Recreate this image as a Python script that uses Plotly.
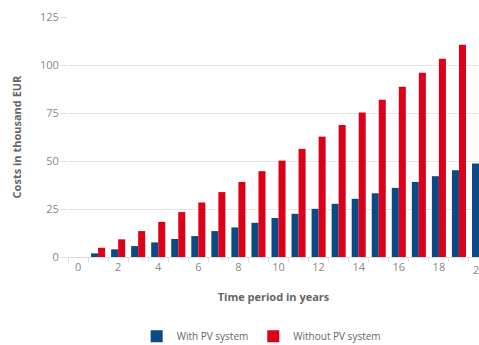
import plotly.graph_objects as go

years = list(range(1, 21))
with_pv = [1.9, 4.0, 5.7, 7.6, 9.4, 10.9, 13.5, 15.4, 17.8, 20.3,
           22.5, 25.1, 27.7, 30.3, 33.2, 36.0, 39.1, 42.1, 45.2, 48.7]
without_pv = [4.8, 9.2, 13.5, 18.3, 23.4, 28.4, 33.8, 39.1, 44.7, 50.2,
              56.3, 62.7, 68.7, 75.2, 81.9, 88.7, 95.9, 103.2, 110.6, 117.5]

blue = "#0b4a85"
red = "#dc0018"
grey_text = "#777777"

fig = go.Figure()

fig.add_trace(go.Bar(x=years, y=with_pv, name="With PV system", marker_color=blue,
                     marker_line_width=0))
fig.add_trace(go.Bar(x=years, y=without_pv, name="Without PV system", marker_color=red,
                     marker_line_width=0))

fig.update_layout(
    width=479, height=345,
    margin=dict(l=68, r=0, t=17, b=88, autoexpand=False),
    plot_bgcolor="white", paper_bgcolor="white",
    barmode="group", bargap=0.3, bargroupgap=0,
    font=dict(family="Open Sans, Segoe UI, sans-serif", size=10, color=grey_text),
    legend=dict(orientation="h", x=0.47, xanchor="center", y=-0.33, yanchor="middle",
                font=dict(size=10, color="#666666"), itemwidth=30, tracegroupgap=0),
)

# the right edge cuts through year 20, so its tick label is drawn by hand
fig.add_annotation(x=20, y=0, xref="x", yref="paper", yanchor="top", yshift=-3,
                   text="20", showarrow=False, font=dict(size=11, color="#888888"))

fig.update_xaxes(
    range=[-0.5, 20.0], tickmode="linear", tick0=0, dtick=2, automargin=False,
    showgrid=False, zeroline=False,
    showline=True, linecolor="#dddddd", linewidth=1,
    ticks="", tickfont=dict(size=11, color="#888888"),
    minor=dict(ticks="outside", tick0=0.5, dtick=1, ticklen=4, tickcolor="#dddddd"),
    title=dict(text="<b>Time period in years</b>", font=dict(size=11, color="#666666"), standoff=20),
)
fig.update_yaxes(
    range=[0, 125], tickmode="linear", tick0=0, dtick=25, automargin=False,
    showgrid=True, gridcolor="#e6e6e6", gridwidth=1, zeroline=False,
    ticks="outside", ticklen=6, tickcolor="#dddddd",
    tickfont=dict(size=11, color="#888888"),
    title=dict(text="<b>Costs in thousand EUR</b>", font=dict(size=11, color="#666666"), standoff=16),
)

# page body has a default 8px margin; drop it so the figure fills the window
fig.write_html("out.html", config={"displayModeBar": False},
               post_script="document.body.style.margin='0';")
